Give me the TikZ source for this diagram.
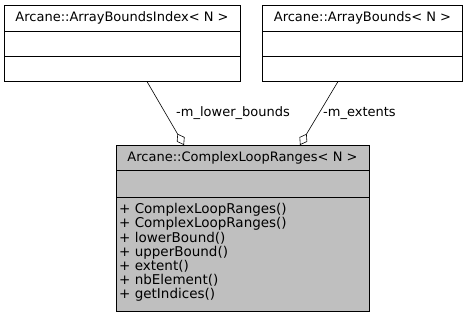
\documentclass[tikz,border=0pt]{standalone}
\usepackage{fontspec}
\setmainfont{DejaVu Sans}
\usetikzlibrary{arrows.meta,positioning}

\begin{document}
\begin{tikzpicture}[x=1pt,y=-1pt,
    classpart/.style={draw,line width=0.9pt,inner sep=0pt,outer sep=0pt,
        font=\fontsize{13}{15}\selectfont},
    aggregation/.style={-{Diamond[open,length=13pt,width=9pt]},line width=0.6pt},
    rolename/.style={anchor=west,inner sep=0pt,font=\fontsize{13}{15}\selectfont}]
    \useasboundingbox (0,0) rectangle (467,316);

    \node [classpart,minimum width=236pt,minimum height=26.5pt] (idx) at (122,18.3)
        {Arcane::ArrayBoundsIndex< N >};
    \node [classpart,minimum width=236pt,minimum height=25pt,below=0pt of idx] (idxattr) {};
    \node [classpart,minimum width=236pt,minimum height=25pt,below=0pt of idxattr] (idxmeth) {};

    \node [classpart,minimum width=199.6pt,minimum height=26.5pt] (bnd) at (362.5,18.3)
        {Arcane::ArrayBounds< N >};
    \node [classpart,minimum width=199.6pt,minimum height=25pt,below=0pt of bnd] (bndattr) {};
    \node [classpart,minimum width=199.6pt,minimum height=25pt,below=0pt of bndattr] (bndmeth) {};

    \node [classpart,fill=black!25,minimum width=253pt,minimum height=25pt] (rng) at (242.5,157.5)
        {Arcane::ComplexLoopRanges< N >};
    \node [classpart,fill=black!25,minimum width=253pt,minimum height=27pt,below=0pt of rng] (rngattr) {};
    \node [classpart,fill=black!25,minimum width=253pt,minimum height=114pt,below=0pt of rngattr] (rngmeth) {};
    \node [rolename,align=left,font=\fontsize{13.5}{14.2}\selectfont] (ops) at (119,252.5)
        {+ ComplexLoopRanges()\\+ ComplexLoopRanges()\\+ lowerBound()\\+ upperBound()\\
         + extent()\\+ nbElement()\\+ getIndices()};

    \coordinate (idxout) at ([xshift=25pt]idxmeth.south);
    \coordinate (bndout) at ([xshift=-24.5pt]bndmeth.south);
    \draw [aggregation] (idxout) -- ([xshift=-58.5pt]rng.north);
    \draw [aggregation] (bndout) -- ([xshift=57.5pt]rng.north);

    \node [rolename] (lowerlbl) at (176,113) {-m\_lower\_bounds};
    \node [rolename] (extlbl) at (323,113) {-m\_extents};
\end{tikzpicture}
\end{document}
